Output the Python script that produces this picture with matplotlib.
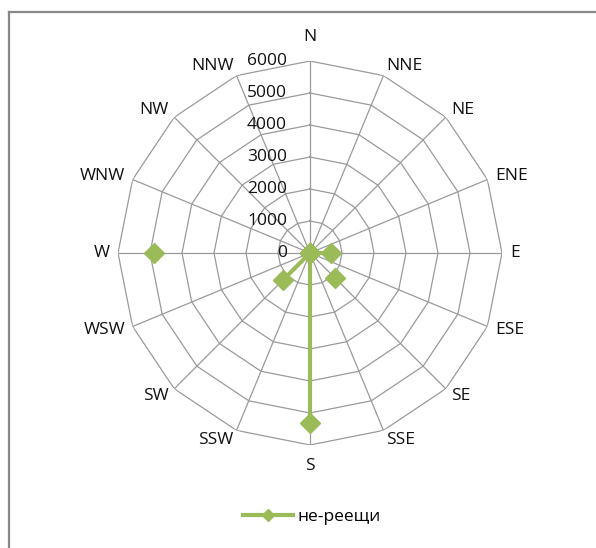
import numpy as np
import matplotlib
matplotlib.use("Agg")
import matplotlib.pyplot as plt
from matplotlib.lines import Line2D

# Wind directions, clockwise from north
directions = ["N", "NNE", "NE", "ENE", "E", "ESE", "SE", "SSE",
              "S", "SSW", "SW", "WSW", "W", "WNW", "NW", "NNW"]
# Series values per direction (nan = empty cell, leaves a gap in the line)
values = [0, 0, 0, 0, 650, np.nan, 1120, np.nan,
          5300, 0, 1180, np.nan, 4880, np.nan, 0, 0]
series_name = "не-реещи"
rings = [1000, 2000, 3000, 4000, 5000, 6000]
ring_labels = ["0", "1000", "2000", "3000", "4000", "5000", "6000"]
r_max = 6000

green = "#9BBB59"
grid_col = "#9a9a9a"
font = ["Open Sans", "DejaVu Sans"]
fsize = 12.5

W, H = 596, 548
fig = plt.figure(figsize=(W / 100, H / 100), dpi=100)

cx, cy, R = 310, 253, 192
ax = fig.add_axes([(cx - R) / W, (H - cy - R) / H, 2 * R / W, 2 * R / H],
                  projection="polar")
ax.set_theta_zero_location("N")
ax.set_theta_direction(-1)
ax.set_ylim(0, r_max)
ax.grid(False)
ax.set_xticks([])
ax.set_yticks([])
ax.spines["polar"].set_visible(False)
ax.patch.set_alpha(0)

n = len(directions)
theta = np.arange(n) * 2 * np.pi / n
theta_closed = np.append(theta, theta[0])

# polygonal rings
for v in rings:
    ax.plot(theta_closed, [v] * (n + 1), color=grid_col, lw=0.9, zorder=1)
# spokes
for t in theta:
    ax.plot([t, t], [0, r_max], color=grid_col, lw=0.9, zorder=1)

# data series
vals_closed = np.append(values, values[0])
ax.plot(theta_closed, vals_closed, color=green, lw=3, marker="D",
        markersize=10.5, markerfacecolor=green, markeredgecolor=green,
        zorder=3, clip_on=False, label=series_name)

# value axis labels along the north spoke
for i, lab in enumerate(ring_labels):
    ax.annotate(lab, xy=(0, i * 1000), xytext=(-23, 0),
                textcoords="offset pixels", ha="right", va="center",
                fontsize=fsize, family=font, color="#111111",
                annotation_clip=False)

# direction labels around the outer ring
for t, lab in zip(theta, directions):
    s, c = np.sin(t), np.cos(t)
    if abs(s) < 0.1:
        ha = "center"
        dx, dy = 0, (24 if c > 0 else -21)
    else:
        ha = "left" if s > 0 else "right"
        dx, dy = 8 * s, 10 * c
    ax.annotate(lab, xy=(t, r_max), xytext=(dx, dy),
                textcoords="offset pixels", ha=ha, va="center",
                fontsize=fsize, family=font, color="#111111",
                annotation_clip=False)

fig.legend(loc="center", bbox_to_anchor=(312 / W, 1 - 517 / H),
           frameon=False, handlelength=2.9, handletextpad=0.25,
           markerscale=0.6, prop={"family": font, "size": fsize})

# chart frame (top and left edges)
fig.add_artist(Line2D([8.5 / W, 8.5 / W], [0, 1 - 11.5 / H],
                      transform=fig.transFigure, color="#888888", lw=1.6))
fig.add_artist(Line2D([8.5 / W, 1], [1 - 11.5 / H, 1 - 11.5 / H],
                      transform=fig.transFigure, color="#888888", lw=1.6))

fig.savefig("out.png", dpi=100, facecolor="white")
